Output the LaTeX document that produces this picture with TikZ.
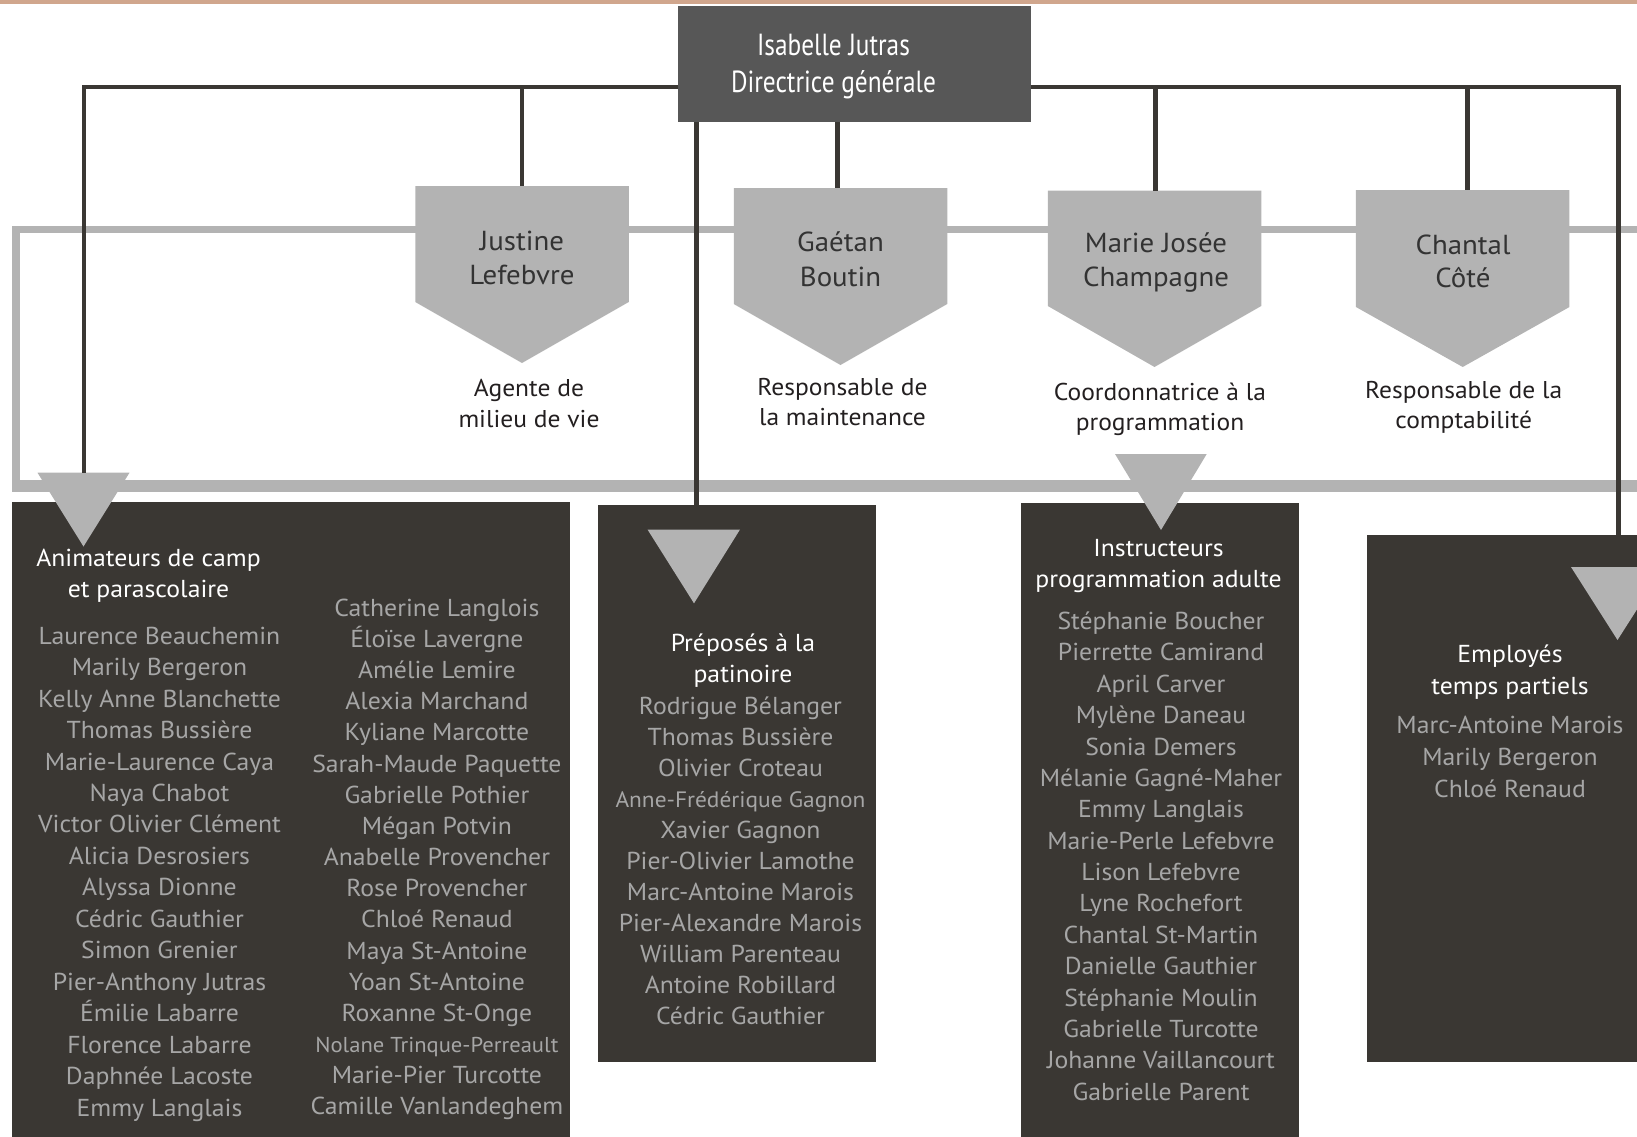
\documentclass[tikz,border=0pt]{standalone}
\usepackage{fontspec}
\setmainfont[FakeStretch=1.05]{PT Sans}
\newfontfamily\condfont[FakeStretch=0.83]{PT Sans}
\definecolor{topband}{RGB}{208,166,141}
\definecolor{dirfill}{RGB}{87,87,87}
\definecolor{boxfill}{RGB}{58,55,51}
\definecolor{linec}{RGB}{58,55,51}
\definecolor{greyshape}{RGB}{179,179,179}
\definecolor{namec}{RGB}{166,166,166}
\definecolor{pentext}{RGB}{51,51,51}
\definecolor{roletext}{RGB}{35,31,32}
\newcommand\orgpent[5]{%
  \fill[greyshape] ({#2-106.75},#3) -- ({#2+106.75},#3) -- ({#2+106.75},#4) -- (#2,#5) -- ({#2-106.75},#4) -- cycle;
  \coordinate (#1) at (#2,#3);}
\newcommand\nolanetxt{\resizebox{243pt}{!}{Nolane Trinque-Perreault}}
\newcommand\annetxt{\resizebox{250pt}{!}{Anne-Frédérique Gagnon}}
\begin{document}
\begin{tikzpicture}[x=1pt,y=-1pt,
  connector/.style={draw=linec, line width=4.5pt},
  listbox/.style={fill=boxfill, draw=none, inner sep=0pt, outer sep=0pt, anchor=north west},
  nm/.style={inner sep=0pt, text height=17.1pt, text depth=0pt, text=namec, font=\fontsize{24.5}{29}\selectfont},
  hd/.style={nm, text=white},
  pname/.style={inner sep=0pt, text height=19.2pt, text depth=0pt, text=pentext, font=\fontsize{27.5}{32}\selectfont},
  role/.style={inner sep=0pt, text height=17pt, text depth=0pt, text=roletext, font=\fontsize{24.3}{28}\selectfont},
  dirtxt/.style={inner sep=0pt, text height=21.3pt, text depth=0pt, text=white, font=\condfont\fontsize{30.5}{35}\selectfont}]
\useasboundingbox (0,0) rectangle (1637,1136);
\clip (0,0) rectangle (1637,1136);
% top band
\fill[topband] (0,0) rectangle (1637,3.7);
% grey frame
\fill[greyshape] (12.3,226) rectangle (1640,232.7);
\fill[greyshape] (12.3,226) rectangle (20,492);
\fill[greyshape] (12.3,480) rectangle (1640,492);
% director
\node[fill=dirfill, inner sep=0pt, outer sep=0pt, minimum width=353pt, minimum height=116pt] (dir) at (854.5,64) {};
\node[dirtxt] (dir1) at (833.5,45) {Isabelle Jutras};
\node[dirtxt] (dir2) at (833.5,81.5) {Directrice générale};
% pentagons
\orgpent{pJ}{522}{186}{302}{363}
\orgpent{pG}{840.5}{188}{304}{365}
\orgpent{pM}{1154.5}{190.5}{306}{367}
\orgpent{pC}{1462.7}{190}{307}{367}
\node[pname] (pJ1) at (522,241) {Justine};
\node[pname] (pJ2) at (522,275) {Lefebvre};
\node[pname] (pG1) at (840.5,242) {Gaétan};
\node[pname] (pG2) at (840.5,276.5) {Boutin};
\node[pname] (pM1) at (1156,243) {Marie Josée};
\node[pname] (pM2) at (1156,277) {Champagne};
\node[pname] (pC1) at (1463,244.5) {Chantal};
\node[pname] (pC2) at (1463,278) {Côté};
\node[role] (rJ1) at (529,388) {Agente de};
\node[role] (rJ2) at (529,419) {milieu de vie};
\node[role] (rG1) at (842.5,386.5) {Responsable de};
\node[role] (rG2) at (842.5,417) {la maintenance};
\node[role] (rM1) at (1160,391.5) {Coordonnatrice à la};
\node[role] (rM2) at (1160,422) {programmation};
\node[role] (rC1) at (1463.7,389.5) {Responsable de la};
\node[role] (rC2) at (1463.7,420) {comptabilité};
% list boxes
\node[listbox, minimum width=557.7pt, minimum height=640pt] (boxA) at (12.3,502.3) {};
\node[listbox, minimum width=278pt, minimum height=557.4pt] (boxP) at (598,505) {};
\node[listbox, minimum width=278pt, minimum height=640pt] (boxI) at (1021,503) {};
\node[listbox, minimum width=274pt, minimum height=527pt] (boxE) at (1366.7,535) {};
% triangles
\fill[greyshape] (37.5,472.7) -- (129.5,472.7) -- (83.5,546.5) -- cycle;
\coordinate (triAtop) at (83.8,472.7);
\fill[greyshape] (647.5,529.5) -- (740,529.5) -- (694,603.3) -- cycle;
\fill[greyshape] (1115,454) -- (1206.7,454) -- (1161,530) -- cycle;
\fill[greyshape] (1571,567) -- (1664,567) -- (1617.5,640) -- cycle;
\coordinate (prepIn) at (696.7,505);
\coordinate (empIn) at (1618.7,535);
% connectors
\coordinate (bus) at (0,87);
\draw[connector] (dir.west |- bus) -| (triAtop);
\draw[connector] (dir.east |- bus) -| (empIn);
\draw[connector] (pJ |- bus) -- (pJ);
\draw[connector] (837.5,0 |- dir.south) -- (837.5,188);
\draw[connector] (1155.7,87) -- (1155.7,190.5);
\draw[connector] (1467.5,87) -- (1467.5,190);
\draw[connector] (prepIn |- dir.south) -- (prepIn);
% headers
\node[hd] (hA1) at (148.5,557.5) {Animateurs de camp};
\node[hd] (hA2) at (148.5,589) {et parascolaire};
\node[hd] (hP1) at (743,643) {Préposés à la};
\node[hd] (hP2) at (743,673.5) {patinoire};
\node[hd] (hI1) at (1158.5,547.5) {Instructeurs};
\node[hd] (hI2) at (1158.5,579) {programmation adulte};
\node[hd] (hE1) at (1510,654) {Employés};
\node[hd] (hE2) at (1510,686) {temps partiels};
% names
\foreach \nmtext [count=\i from 0] in {Laurence Beauchemin, Marily Bergeron, Kelly Anne Blanchette, Thomas Bussière, Marie-Laurence Caya, Naya Chabot, Victor Olivier Clément, Alicia Desrosiers, Alyssa Dionne, Cédric Gauthier, Simon Grenier, Pier-Anthony Jutras, Émilie Labarre, Florence Labarre, Daphnée Lacoste, Emmy Langlais}
  \node[nm] (a\i) at (159.5,{635.7+31.45*\i}) {\nmtext};
\foreach \nmtext [count=\i from 0] in {Catherine Langlois, Éloïse Lavergne, Amélie Lemire, Alexia Marchand, Kyliane Marcotte, Sarah-Maude Paquette, Gabrielle Pothier, Mégan Potvin, Anabelle Provencher, Rose Provencher, Chloé Renaud, Maya St-Antoine, Yoan St-Antoine, Roxanne St-Onge, \nolanetxt, Marie-Pier Turcotte, Camille Vanlandeghem}
  \node[nm] (b\i) at (436.9,{607.6+31.17*\i}) {\nmtext};
\foreach \nmtext [count=\i from 0] in {Rodrigue Bélanger, Thomas Bussière, Olivier Croteau, \annetxt, Xavier Gagnon, Pier-Olivier Lamothe, Marc-Antoine Marois, Pier-Alexandre Marois, William Parenteau, Antoine Robillard, Cédric Gauthier}
  \node[nm] (p\i) at (740.5,{705.5+31.0*\i}) {\nmtext};
\foreach \nmtext [count=\i from 0] in {Stéphanie Boucher, Pierrette Camirand, April Carver, Mylène Daneau, Sonia Demers, Mélanie Gagné-Maher, Emmy Langlais, Marie-Perle Lefebvre, Lison Lefebvre, Lyne Rochefort, Chantal St-Martin, Danielle Gauthier, Stéphanie Moulin, Gabrielle Turcotte, Johanne Vaillancourt, Gabrielle Parent}
  \node[nm] (i\i) at (1161,{621+31.37*\i}) {\nmtext};
\foreach \nmtext [count=\i from 0] in {Marc-Antoine Marois, Marily Bergeron, Chloé Renaud}
  \node[nm] (e\i) at (1510,{724.8+31.9*\i}) {\nmtext};
\end{tikzpicture}
\end{document}
